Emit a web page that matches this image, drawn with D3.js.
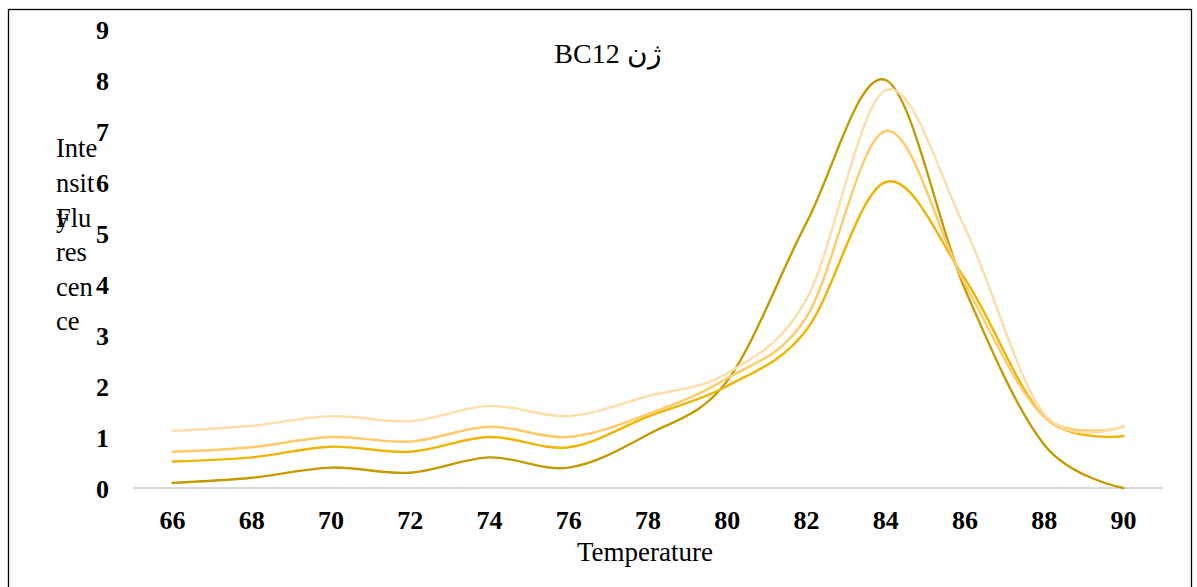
<!DOCTYPE html>
<html>
<head>
<meta charset="utf-8">
<script src="https://cdn.jsdelivr.net/npm/d3@7"></script>
<style>
  html, body { margin: 0; padding: 0; background: #fff; }
  svg { display: block; }
</style>
</head>
<body>
<svg id="chart" width="1197" height="587"></svg>
<script>
const categories = [66, 68, 70, 72, 74, 76, 78, 80, 82, 84, 86, 88, 90];
const series1 = [0.1, 0.2, 0.4, 0.3, 0.6, 0.4, 1.05, 2.1, 5.2, 8.0, 3.9, 0.85, 0.0];
const series2 = [0.52, 0.6, 0.81, 0.71, 1.0, 0.8, 1.4, 2.0, 3.1, 6.0, 4.1, 1.4, 1.02];
const series3 = [0.71, 0.8, 1.0, 0.91, 1.2, 1.0, 1.45, 2.15, 3.35, 7.0, 4.0, 1.4, 1.2];
const series4 = [1.12, 1.22, 1.41, 1.31, 1.61, 1.41, 1.8, 2.25, 3.7, 7.8, 5.1, 1.45, 1.22];
const yTicks = [0, 1, 2, 3, 4, 5, 6, 7, 8, 9];
const seriesColors = ["#C49A00", "#F0B400", "#FFC966", "#FFDDA8"];
const title = "BC12 ژن";
const xTitle = "Temperature";
const yTitleLines = ["Inte", "nsit", "y", "res", "cen", "ce"];
const yTitleOverlay = "Flu";

const svg = d3.select("#chart");
const serif = "'Liberation Serif', 'Times New Roman', serif";

// outer border
svg.append("rect")
  .attr("x", 8.5).attr("y", 9.5)
  .attr("width", 1183).attr("height", 620)
  .attr("fill", "none").attr("stroke", "#000").attr("stroke-width", 1.3);

const x = d3.scalePoint().domain(categories).range([133, 1163]).padding(0.5);
const y = d3.scaleLinear().domain([0, 9]).range([488, 29]);

// x axis line
svg.append("line")
  .attr("x1", 133).attr("x2", 1163)
  .attr("y1", y(0)).attr("y2", y(0))
  .attr("stroke", "#D9D9D9").attr("stroke-width", 2);

// y tick labels
svg.append("g").selectAll("text").data(yTicks).join("text")
  .attr("x", 109).attr("y", d => y(d) + 10)
  .attr("text-anchor", "end")
  .attr("font-family", serif).attr("font-weight", "bold").attr("font-size", 26)
  .attr("fill", "#000")
  .text(d => d);

// x tick labels
svg.append("g").selectAll("text").data(categories).join("text")
  .attr("x", d => x(d)).attr("y", 529)
  .attr("text-anchor", "middle")
  .attr("font-family", serif).attr("font-weight", "bold").attr("font-size", 26)
  .attr("fill", "#000")
  .text(d => d);

// lines
const line = d3.line()
  .x((d, i) => x(categories[i]))
  .y(d => y(d))
  .curve(d3.curveCardinal.tension(0));

[series1, series2, series3, series4].forEach((s, i) => {
  svg.append("path")
    .datum(s)
    .attr("d", line)
    .attr("fill", "none")
    .attr("stroke", seriesColors[i])
    .attr("stroke-width", 2.4)
    .attr("stroke-linejoin", "round")
    .attr("stroke-linecap", "round");
});

// title
svg.append("text")
  .attr("x", 608).attr("y", 63)
  .attr("text-anchor", "middle")
  .attr("font-family", serif).attr("font-size", 28)
  .attr("fill", "#000")
  .text(title);

// x title
svg.append("text")
  .attr("x", 645).attr("y", 561)
  .attr("text-anchor", "middle")
  .attr("font-family", serif).attr("font-size", 27)
  .attr("fill", "#000")
  .text(xTitle);

// y title (wrapped)
const yBase = [157, 192, 227, 261, 296, 330];
svg.append("g").selectAll("text").data(yTitleLines).join("text")
  .attr("x", 56).attr("y", (d, i) => yBase[i])
  .attr("font-family", serif).attr("font-size", 26.5)
  .attr("fill", "#000")
  .text(d => d);
svg.append("text")
  .attr("x", 56).attr("y", yBase[2])
  .attr("font-family", serif).attr("font-size", 26.5)
  .attr("fill", "#000")
  .text(yTitleOverlay);
</script>
</body>
</html>
